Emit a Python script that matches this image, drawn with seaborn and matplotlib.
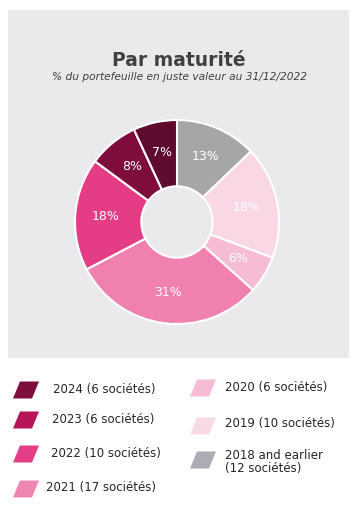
import matplotlib
matplotlib.use("Agg")
import matplotlib.pyplot as plt
from matplotlib.patches import Polygon
import seaborn as sns

sns.set_style("white")
plt.rcParams['font.family'] = ['DejaVu Sans']

# data, clockwise from 12 o'clock
categories = ["2018 and earlier", "2019", "2020", "2021", "2022", "2023", "2024"]
shares = [13, 18, 6, 31, 18, 8, 7]
companies = [12, 10, 6, 17, 10, 6, 6]

pie_colors = ["#A6A6A6", "#F9D7E5", "#F6BCD5", "#EF80AF", "#E43D86", "#7E0D3D", "#5E0B2F"]
legend_colors = {"2024": "#7D0E3E", "2023": "#B7155A", "2022": "#E43E86", "2021": "#EF86B2",
                 "2020": "#F6BAD5", "2019": "#F9D9E6", "2018 and earlier": "#ACACB4"}

title = "Par maturité"
subtitle = "% du portefeuille en juste valeur au 31/12/2022"

W, H = 360, 520
fig = plt.figure(figsize=(W / 100, H / 100), dpi=100)
fig.patch.set_facecolor("white")

# grey panel behind the chart
px0, py0, px1, py1 = 8, 10, 349, 358
bg = fig.add_axes([px0 / W, 1 - py1 / H, (px1 - px0) / W, (py1 - py0) / H], zorder=-5)
bg.set_facecolor("#EAEAEC")
bg.set_xticks([])
bg.set_yticks([])
for sp in bg.spines.values():
    sp.set_visible(False)

fig.text(179 / W, 1 - 61 / H, title, ha="center", va="center", fontsize=13.5,
         fontweight="bold", color="#404040")
fig.text(179 / W, 1 - 77 / H, subtitle, ha="center", va="center", fontsize=7.7,
         style="italic", color="#404040")

# donut
cx, cy, R = 177, 222, 102
ax = fig.add_axes([px0 / W, 1 - py1 / H, (px1 - px0) / W, (py1 - py0) / H], zorder=2)
wedges, texts, autotexts = ax.pie(
    shares, colors=pie_colors, startangle=90, counterclock=False, radius=1,
    labels=None, autopct=lambda p: "", pctdistance=0.7,
    wedgeprops=dict(width=0.65, edgecolor="white", linewidth=1.5))
for t, v in zip(autotexts, shares):
    t.set_text(f"{v}%")
    t.set_color("white")
    t.set_fontsize(9)
ax.set_aspect("auto")
ax.set_xlim((px0 - cx) / R, (px1 - cx) / R)
ax.set_ylim(-(py1 - cy) / R, (cy - py0) / R)
ax.axis("off")

# legend drawn in pixel coordinates
lax = fig.add_axes([0, 0, 1, 1], zorder=3)
lax.set_xlim(0, W)
lax.set_ylim(H, 0)
lax.axis("off")

legend_order = ["2024", "2023", "2022", "2021", "2020", "2019", "2018 and earlier"]
marker_pos = [(13, 390), (13, 420), (13, 454), (13, 489), (190, 388), (190, 426), (190, 460)]
text_pos = [(53, 389), (52, 420), (51, 454), (46, 488), (225, 388), (225, 423), (225, 462)]
for name, (mx, my), (tx, ty) in zip(legend_order, marker_pos, text_pos):
    n = companies[categories.index(name)]
    h, w, s = 8.5, 19, 7
    poly = Polygon([(mx, my + h), (mx + w, my + h), (mx + w + s, my - h), (mx + s, my - h)],
                   closed=True, facecolor=legend_colors[name], edgecolor="none")
    lax.add_patch(poly)
    label = f"{name} ({n} sociétés)" if name != "2018 and earlier" else f"{name}\n({n} sociétés)"
    lax.text(tx, ty, label, ha="left", va="center", fontsize=8.5, color="#262626",
             linespacing=0.95)

fig.savefig("out.png", dpi=100)
